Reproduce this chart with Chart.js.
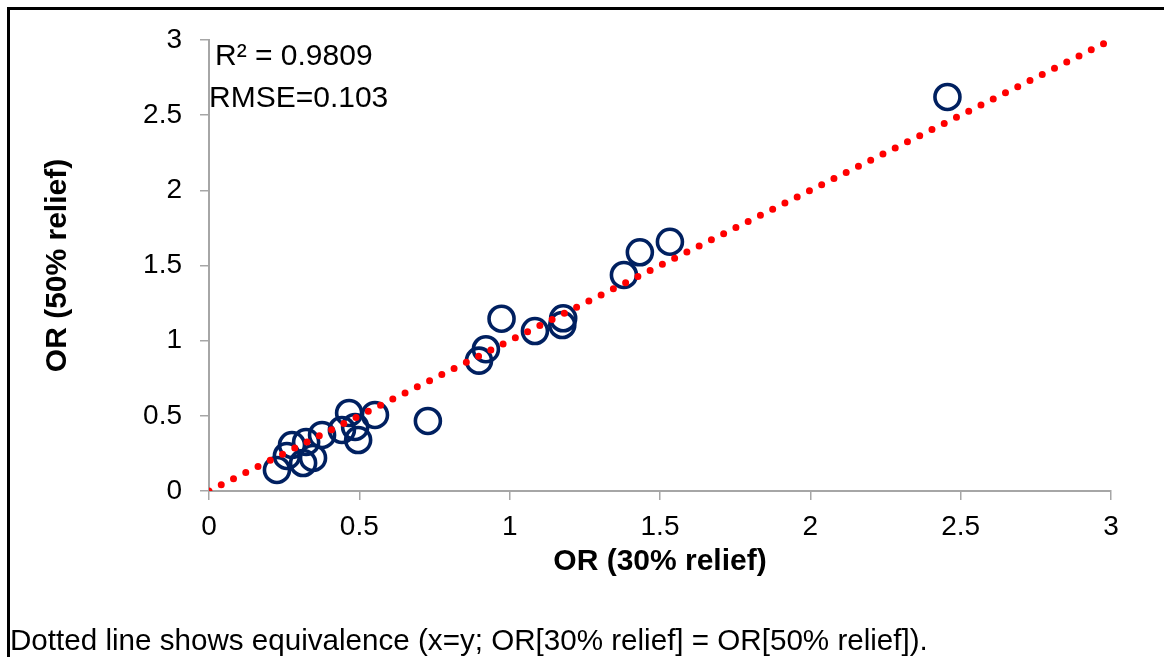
<!DOCTYPE html>
<html lang="en">
<head>
  <meta charset="UTF-8" />
  <title>OR 30% vs 50% relief</title>
  <script src="https://cdn.jsdelivr.net/npm/chart.js"></script>
  <style>
    body {
      margin: 0;
      background: #fff;
      font-family: 'Liberation Sans', Arial, sans-serif;
      color: #000;
    }

    .page {
      position: relative;
      width: 1164px;
      height: 657px;
      overflow: hidden;
    }

    .frame {
      position: absolute;
      left: 7px;
      top: 7px;
      width: 1200px;
      height: 700px;
      border-left: 3px solid #000;
      border-top: 3px solid #000;
    }

    #chart {
      position: absolute;
      left: 0;
      top: 0;
    }

    .note {
      position: absolute;
      font-size: 30px;
      line-height: 1;
      white-space: nowrap;
    }

    #r2 { left: 215px; top: 40px; }
    #rmse { left: 209px; top: 82px; }

    .footnote {
      position: absolute;
      left: 10px;
      top: 625px;
      font-size: 29.6px;
      line-height: 1;
      white-space: nowrap;
    }
  </style>
</head>
<body>
  <div class="page">
    <div class="frame"></div>
    <canvas id="chart" width="1164" height="657"></canvas>
    <div class="note" id="r2">R² = 0.9809</div>
    <div class="note" id="rmse">RMSE=0.103</div>
    <div class="footnote">Dotted line shows equivalence (x=y; OR[30% relief] = OR[50% relief]).</div>
  </div>

  <script>
    // odds ratios (x = 30% relief, y = 50% relief)
    const or30 = [0.226, 0.259, 0.276, 0.313, 0.323, 0.346, 0.376, 0.442, 0.466, 0.486, 0.496, 0.552, 0.728,
                  0.898, 0.921, 0.973, 1.084, 1.175, 1.178, 1.380, 1.433, 1.533, 2.456];
    const or50 = [0.140, 0.233, 0.306, 0.186, 0.326, 0.220, 0.373, 0.406, 0.519, 0.426, 0.339, 0.506, 0.466,
                  0.867, 0.943, 1.146, 1.064, 1.104, 1.149, 1.437, 1.588, 1.658, 2.621];

    // equivalence line x = y
    const equivX = [0, 3];
    const equivY = [0, 3];

    const axisTicks = { min: 0, max: 3, step: 0.5 };

    const FONT = "'Liberation Sans', Arial, sans-serif";
    const AXIS_GREY = '#a6a6a6';

    const points = or30.map((x, i) => ({ x: x, y: or50[i] }));
    const equivLine = equivX.map((x, i) => ({ x: x, y: equivY[i] }));

    const axisGrid = {
      display: true,
      drawOnChartArea: false,
      drawTicks: true,
      tickLength: 9,
      color: AXIS_GREY,
      lineWidth: 1.5
    };

    const plainNumber = value => String(value);

    new Chart(document.getElementById('chart'), {
      type: 'scatter',
      data: {
        datasets: [
          {
            label: 'x = y',
            data: equivLine,
            showLine: true,
            borderColor: '#ff0000',
            borderWidth: 7,
            borderDash: [0, 13.7],
            borderCapStyle: 'round',
            pointRadius: 0,
            fill: false
          },
          {
            label: 'OR',
            data: points,
            pointStyle: 'circle',
            pointRadius: 12.5,
            pointBorderWidth: 3.6,
            pointBorderColor: '#002060',
            pointBackgroundColor: 'rgba(0,0,0,0)'
          }
        ]
      },
      options: {
        responsive: false,
        animation: false,
        layout: { padding: { left: 10, top: 40, right: 53, bottom: 66 } },
        plugins: {
          legend: { display: false },
          tooltip: { enabled: false }
        },
        scales: {
          x: {
            type: 'linear',
            min: axisTicks.min,
            max: axisTicks.max,
            ticks: {
              stepSize: axisTicks.step,
              callback: plainNumber,
              color: '#000',
              padding: 10,
              font: { family: FONT, size: 28 }
            },
            grid: axisGrid,
            border: { color: AXIS_GREY, width: 2 },
            title: {
              display: true,
              text: 'OR (30% relief)',
              color: '#000',
              padding: { top: 0, bottom: 11 },
              font: { family: FONT, size: 30, weight: 'bold' }
            },
            afterFit: scale => { scale.height = 100; }
          },
          y: {
            type: 'linear',
            min: axisTicks.min,
            max: axisTicks.max,
            ticks: {
              stepSize: axisTicks.step,
              callback: plainNumber,
              color: '#000',
              padding: 18,
              font: { family: FONT, size: 28 }
            },
            grid: axisGrid,
            border: { color: AXIS_GREY, width: 2 },
            title: {
              display: true,
              text: 'OR (50% relief)',
              color: '#000',
              padding: { top: 30, bottom: 0 },
              font: { family: FONT, size: 30, weight: 'bold' }
            },
            afterFit: scale => { scale.width = 199; }
          }
        }
      }
    });
  </script>
</body>
</html>
